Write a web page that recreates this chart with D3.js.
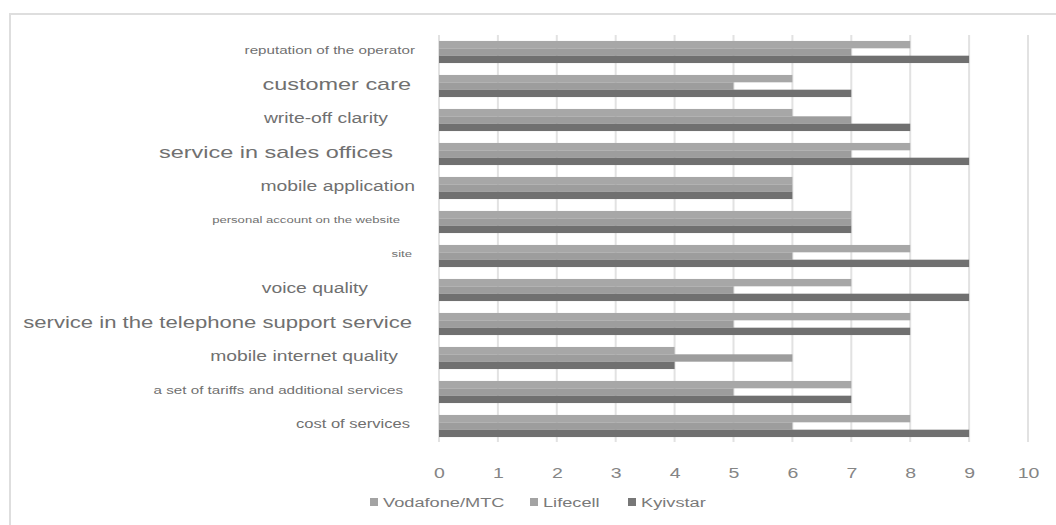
<!DOCTYPE html>
<html>
<head>
<meta charset="utf-8">
<script src="https://cdn.jsdelivr.net/npm/d3@7"></script>
<style>
body { margin: 0; background: #fff; }
text { font-family: "Liberation Sans", Arial, sans-serif; }
</style>
</head>
<body>
<div id="chart"></div>
<script>
// categories, top to bottom
var categories = [
  "reputation of the operator",
  "customer care",
  "write-off clarity",
  "service in sales offices",
  "mobile application",
  "personal account on the website",
  "site",
  "voice quality",
  "service in the telephone support service",
  "mobile internet quality",
  "a set of tariffs and additional services",
  "cost of services"
];
var series = ["Vodafone/MTC", "Lifecell", "Kyivstar"];
var vodafone = [8, 6, 6, 8, 6, 7, 8, 7, 8, 4, 7, 8];
var lifecell = [7, 5, 7, 7, 6, 7, 6, 5, 5, 6, 5, 6];
var kyivstar = [9, 7, 8, 9, 6, 7, 9, 9, 8, 4, 7, 9];
var tickValues = [0, 1, 2, 3, 4, 5, 6, 7, 8, 9, 10];

// label look (the source mixes font sizes)
var labelSize = [11, 17, 14, 17, 14, 9.5, 9.5, 14, 16, 14, 11, 12];
var labelEnd = [415, 411, 388, 393, 415, 400, 412, 368, 412, 398, 403, 410];
var colors = ["#a7a7a7", "#9d9d9d", "#707070"];
var stretch = 1.38;

var width = 1056, height = 525;

var svg = d3.select("#chart").append("svg")
    .attr("width", width)
    .attr("height", height)
    .style("background", "#fff");

// faint outer frame
svg.append("path")
    .attr("d", "M10,525 V14 H1056")
    .attr("fill", "none")
    .attr("stroke", "#dedede")
    .attr("stroke-width", 2);

var x = d3.scaleLinear().domain([0, 10]).range([439, 1028]);
var y = d3.scaleBand().domain(categories).range([35, 443])
    .paddingInner(0.35).paddingOuter(0.175);
var ys = d3.scaleBand().domain(series).range([0, y.bandwidth()]);

// gridlines
svg.append("g").selectAll("line")
    .data(tickValues)
    .enter().append("line")
    .attr("x1", function(d) { return x(d); })
    .attr("x2", function(d) { return x(d); })
    .attr("y1", 35)
    .attr("y2", 442)
    .attr("stroke", "#e2e2e2")
    .attr("stroke-width", 2);

var data = categories.map(function(c, i) {
  return {cat: c, values: [vodafone[i], lifecell[i], kyivstar[i]]};
});

var groups = svg.append("g").selectAll("g")
    .data(data)
    .enter().append("g")
    .attr("transform", function(d) { return "translate(0," + y(d.cat) + ")"; });

groups.selectAll("rect")
    .data(function(d) { return d.values.map(function(v, j) { return {s: series[j], v: v, j: j}; }); })
    .enter().append("rect")
    .attr("x", x(0))
    .attr("y", function(d) { return ys(d.s); })
    .attr("width", function(d) { return x(d.v) - x(0); })
    .attr("height", ys.bandwidth())
    .attr("fill", function(d) { return colors[d.j]; });

// category labels
svg.append("g").selectAll("text")
    .data(categories)
    .enter().append("text")
    .attr("transform", function(d, i) {
      return "translate(" + labelEnd[i] + "," + (y(d) + y.bandwidth() / 2 - 2) + ") scale(" + stretch + ",1)";
    })
    .attr("dy", "0.35em")
    .attr("text-anchor", "end")
    .attr("font-size", function(d, i) { return labelSize[i] + "px"; })
    .attr("fill", "#707070")
    .text(function(d) { return d; });

// x axis labels
var xAxis = svg.append("g")
    .attr("transform", "translate(0,442)")
    .call(d3.axisBottom(x).tickValues(tickValues).tickSize(0).tickPadding(0));
xAxis.select(".domain").remove();
xAxis.selectAll("text")
    .attr("y", 31)
    .attr("dy", "0.35em")
    .attr("font-size", "15px")
    .attr("font-family", "'Liberation Sans', Arial, sans-serif")
    .attr("fill", "#858585")
    .attr("transform", "scale(1.3,1)");

// legend
var legendX = [370, 530, 628];
var legend = svg.append("g").selectAll("g")
    .data(series)
    .enter().append("g")
    .attr("transform", function(d, i) { return "translate(" + legendX[i] + ",502)"; });
legend.append("rect")
    .attr("x", 0).attr("y", -4)
    .attr("width", 8).attr("height", 8)
    .attr("fill", function(d, i) { return i === 2 ? "#777" : "#a3a3a3"; });
legend.append("text")
    .attr("transform", "translate(13,0) scale(1.35,1)")
    .attr("dy", "0.35em")
    .attr("font-size", "13.5px")
    .attr("fill", "#7a7a7a")
    .text(function(d) { return d; });
</script>
</body>
</html>
